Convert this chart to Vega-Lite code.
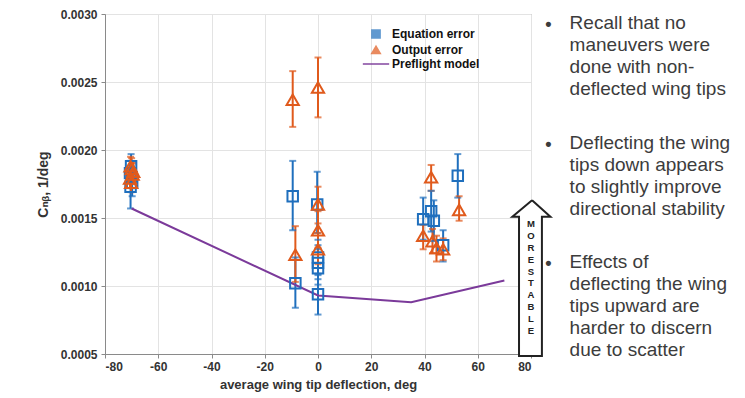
{
  "$schema": "https://vega.github.io/schema/vega-lite/v6.json",
  "autosize": "none",
  "width": 426,
  "height": 340,
  "padding": {"left": 105, "top": 14, "right": 214, "bottom": 44},
  "background": "white",
  "config": {
    "view": {"stroke": "#9a9a9a", "strokeWidth": 1},
    "font": "Liberation Sans, Arial, DejaVu Sans",
    "axis": {
      "labelFont": "Liberation Sans, Arial, DejaVu Sans",
      "labelFontWeight": "bold",
      "labelFontSize": 12,
      "labelColor": "#333333",
      "titleFont": "Liberation Sans, Arial, DejaVu Sans",
      "titleFontWeight": "bold",
      "titleFontSize": 13,
      "titleColor": "#333333",
      "gridColor": "#e3e3e3",
      "domainColor": "#8a8a8a",
      "tickColor": "#8a8a8a"
    }
  },
  "datasets": {
    "pts": [
      {"x": -70.2, "y": 0.00188, "lo": 0.00180, "hi": 0.00197, "series": "Equation error"},
      {"x": -70.6, "y": 0.00183, "lo": 0.00176, "hi": 0.00192, "series": "Equation error"},
      {"x": -69.8, "y": 0.00176, "lo": 0.00166, "hi": 0.00185, "series": "Equation error"},
      {"x": -70.4, "y": 0.00173, "lo": 0.00157, "hi": 0.00186, "series": "Equation error"},
      {"x": -70.0, "y": 0.00180, "lo": 0.00172, "hi": 0.00188, "series": "Equation error"},
      {"x": -9.5, "y": 0.00166, "lo": 0.00141, "hi": 0.00192, "series": "Equation error"},
      {"x": -8.5, "y": 0.00102, "lo": 0.00084, "hi": 0.00121, "series": "Equation error"},
      {"x": -0.3, "y": 0.00160, "lo": 0.00139, "hi": 0.00184, "series": "Equation error"},
      {"x": 0, "y": 0.00121, "lo": 0.00108, "hi": 0.00134, "series": "Equation error"},
      {"x": 0, "y": 0.00117, "lo": 0.00105, "hi": 0.00130, "series": "Equation error"},
      {"x": 0, "y": 0.00113, "lo": 0.00101, "hi": 0.00127, "series": "Equation error"},
      {"x": 0, "y": 0.00094, "lo": 0.00079, "hi": 0.00109, "series": "Equation error"},
      {"x": 52.5, "y": 0.00181, "lo": 0.00165, "hi": 0.00197, "series": "Equation error"},
      {"x": 39.5, "y": 0.00149, "lo": 0.00134, "hi": 0.00165, "series": "Equation error"},
      {"x": 42.5, "y": 0.00155, "lo": 0.00140, "hi": 0.00170, "series": "Equation error"},
      {"x": 43.5, "y": 0.00148, "lo": 0.00133, "hi": 0.00163, "series": "Equation error"},
      {"x": 47, "y": 0.00130, "lo": 0.00118, "hi": 0.00141, "series": "Equation error"},
      {"x": -70.0, "y": 0.00186, "lo": 0.00178, "hi": 0.00194, "series": "Output error"},
      {"x": -69.6, "y": 0.00182, "lo": 0.00175, "hi": 0.00190, "series": "Output error"},
      {"x": -70.6, "y": 0.00179, "lo": 0.00172, "hi": 0.00187, "series": "Output error"},
      {"x": -70.2, "y": 0.00176, "lo": 0.00169, "hi": 0.00183, "series": "Output error"},
      {"x": -69.4, "y": 0.00184, "lo": 0.00177, "hi": 0.00191, "series": "Output error"},
      {"x": -70.4, "y": 0.00188, "lo": 0.00181, "hi": 0.00195, "series": "Output error"},
      {"x": -9.5, "y": 0.00237, "lo": 0.00217, "hi": 0.00258, "series": "Output error"},
      {"x": 0, "y": 0.00246, "lo": 0.00224, "hi": 0.00268, "series": "Output error"},
      {"x": -8.5, "y": 0.00123, "lo": 0.00103, "hi": 0.00144, "series": "Output error"},
      {"x": 0, "y": 0.00160, "lo": 0.00146, "hi": 0.00173, "series": "Output error"},
      {"x": 0, "y": 0.00141, "lo": 0.00128, "hi": 0.00155, "series": "Output error"},
      {"x": 0, "y": 0.00127, "lo": 0.00116, "hi": 0.00139, "series": "Output error"},
      {"x": 53, "y": 0.00156, "lo": 0.00148, "hi": 0.00166, "series": "Output error"},
      {"x": 42.5, "y": 0.00180, "lo": 0.00170, "hi": 0.00189, "series": "Output error"},
      {"x": 39.5, "y": 0.00137, "lo": 0.00127, "hi": 0.00145, "series": "Output error"},
      {"x": 43, "y": 0.00133, "lo": 0.00124, "hi": 0.00142, "series": "Output error"},
      {"x": 44.5, "y": 0.00128, "lo": 0.00118, "hi": 0.00137, "series": "Output error"},
      {"x": 47, "y": 0.00127, "lo": 0.00119, "hi": 0.00135, "series": "Output error"}
    ],
    "model": [
      {"x": -70, "y": 0.00157, "series": "Preflight model"},
      {"x": 0, "y": 0.00093, "series": "Preflight model"},
      {"x": 35, "y": 0.00088, "series": "Preflight model"},
      {"x": 70, "y": 0.00104, "series": "Preflight model"}
    ],
    "arrow": [
      {"i": 1, "x": 80.4, "y": 0.00163},
      {"i": 2, "x": 87.3, "y": 0.00151},
      {"i": 3, "x": 84.1, "y": 0.00151},
      {"i": 4, "x": 84.1, "y": 0.000485},
      {"i": 5, "x": 75.5, "y": 0.000485},
      {"i": 6, "x": 75.5, "y": 0.00151},
      {"i": 7, "x": 73.0, "y": 0.00151},
      {"i": 8, "x": 80.4, "y": 0.00163}
    ],
    "notes": [
      {"x": 94.5, "y": 0.00300, "text": "Recall that no\nmaneuvers were\ndone with non-\ndeflected wing tips"},
      {"x": 94.5, "y": 0.00212, "text": "Deflecting the wing\ntips down appears\nto slightly improve\ndirectional stability"},
      {"x": 94.5, "y": 0.00124, "text": "Effects of\ndeflecting the wing\ntips upward are\nharder to discern\ndue to scatter"}
    ],
    "bullets": [
      {"x": 86.5, "y": 0.00292},
      {"x": 86.5, "y": 0.00204},
      {"x": 86.5, "y": 0.00116}
    ]
  },
  "layer": [
    {
      "data": {"name": "pts"},
      "mark": {"type": "rule", "strokeWidth": 2},
      "encoding": {
        "x": {"field": "x", "type": "quantitative", "scale": {"domain": [-80, 80], "nice": false, "zero": false},
              "axis": {"values": [-80, -60, -40, -20, 0, 20, 40, 60, 80], "labelExpr": "replace(datum.label, '\u2212', '-')", "title": "average wing tip deflection, deg", "titlePadding": 6, "labelPadding": 3, "tickSize": 4}},
        "y": {"field": "lo", "type": "quantitative", "scale": {"domain": [0.0005, 0.003], "nice": false, "zero": false},
              "axis": {"values": [0.0005, 0.001, 0.0015, 0.002, 0.0025, 0.003], "format": ".4f", "title": "Cₙᵦ, 1/deg", "titleFontSize": 14, "titlePadding": 10, "labelPadding": 4, "tickSize": 4}},
        "y2": {"field": "hi"},
        "color": {"field": "series", "type": "nominal",
                  "scale": {"domain": ["Equation error", "Output error", "Preflight model"], "range": ["#1f6fbd", "#e05a1c", "#7b3a9a"]},
                  "legend": {"title": null, "orient": "none", "legendX": 265, "legendY": 14,
                             "labelFont": "Liberation Sans, Arial", "labelFontWeight": "bold", "labelFontSize": 12, "labelColor": "#111",
                             "rowPadding": 0, "symbolStrokeWidth": 2, "symbolSize": 60, "labelOffset": 10}}
      }
    },
    {
      "data": {"name": "pts"},
      "mark": {"type": "tick", "orient": "horizontal", "size": 7, "thickness": 2},
      "encoding": {
        "x": {"field": "x", "type": "quantitative"},
        "y": {"field": "lo", "type": "quantitative"},
        "color": {"field": "series", "type": "nominal"}
      }
    },
    {
      "data": {"name": "pts"},
      "mark": {"type": "tick", "orient": "horizontal", "size": 7, "thickness": 2},
      "encoding": {
        "x": {"field": "x", "type": "quantitative"},
        "y": {"field": "hi", "type": "quantitative"},
        "color": {"field": "series", "type": "nominal"}
      }
    },
    {
      "data": {"name": "model"},
      "mark": {"type": "line", "strokeWidth": 2},
      "encoding": {
        "x": {"field": "x", "type": "quantitative"},
        "y": {"field": "y", "type": "quantitative"},
        "color": {"field": "series", "type": "nominal"}
      }
    },
    {
      "data": {"name": "pts"},
      "mark": {"type": "point", "filled": false, "strokeWidth": 2, "opacity": 1},
      "encoding": {
        "x": {"field": "x", "type": "quantitative"},
        "y": {"field": "y", "type": "quantitative"},
        "color": {"field": "series", "type": "nominal"},
        "shape": {"field": "series", "type": "nominal",
                  "scale": {"domain": ["Equation error", "Output error", "Preflight model"], "range": ["square", "triangle-up", "M-3.4,0H3.4"]},
                  "legend": {"title": null, "orient": "none", "legendX": 265, "legendY": 14,
                             "labelFont": "Liberation Sans, Arial", "labelFontWeight": "bold", "labelFontSize": 12, "labelColor": "#111",
                             "rowPadding": 0, "symbolStrokeWidth": 2, "symbolSize": 60, "labelOffset": 10}},
        "size": {"condition": {"test": "datum.series === 'Equation error'", "value": 110}, "value": 150}
      }
    },
    {
      "data": {"name": "arrow"},
      "mark": {"type": "line", "stroke": "#222", "strokeWidth": 2, "fill": "white", "clip": false},
      "encoding": {
        "x": {"field": "x", "type": "quantitative"},
        "y": {"field": "y", "type": "quantitative"},
        "order": {"field": "i", "type": "quantitative"}
      }
    },
    {
      "data": {"values": [{"x": 80, "y": 0.00149, "t": "M\nO\nR\nE\n\u00a0\nS\nT\nA\nB\nL\nE"}]},
      "mark": {"type": "text", "fontSize": 9.5, "fontWeight": "bold", "color": "#222", "lineHeight": 11.8, "baseline": "top", "align": "center", "lineBreak": "\n"},
      "encoding": {
        "x": {"field": "x", "type": "quantitative"},
        "y": {"field": "y", "type": "quantitative"},
        "text": {"field": "t"}
      }
    },
    {
      "data": {"name": "notes"},
      "mark": {"type": "text", "fontSize": 19, "color": "#3c3c3c", "lineHeight": 22, "baseline": "top", "align": "left", "lineBreak": "\n", "font": "Liberation Sans, Arial"},
      "encoding": {
        "x": {"field": "x", "type": "quantitative"},
        "y": {"field": "y", "type": "quantitative"},
        "text": {"field": "text"}
      }
    },
    {
      "data": {"name": "bullets"},
      "mark": {"type": "text", "fontSize": 18, "fontWeight": "bold", "color": "#3c3c3c", "align": "center", "baseline": "middle", "font": "Liberation Sans, Arial"},
      "encoding": {
        "x": {"field": "x", "type": "quantitative"},
        "y": {"field": "y", "type": "quantitative"},
        "text": {"value": "•"}
      }
    }
  ]
}
